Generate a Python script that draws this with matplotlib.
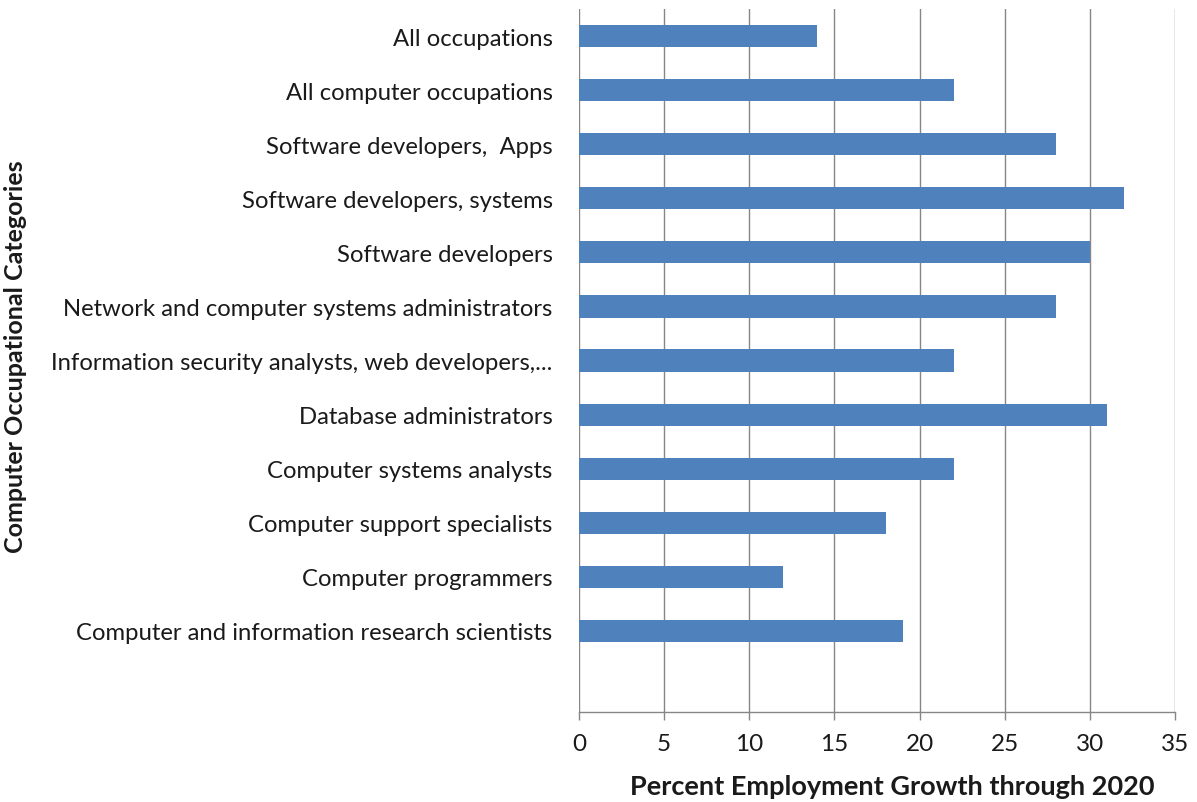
import matplotlib
matplotlib.use('Agg')
import numpy as np
from matplotlib import pyplot as plt

plt.rcParams['font.family'] = ['Lato', 'DejaVu Sans']

# categories, top to bottom
categories = [
    'All occupations',
    'All computer occupations',
    'Software developers,  Apps',
    'Software developers, systems',
    'Software developers',
    'Network and computer systems administrators',
    'Information security analysts, web developers,...',
    'Database administrators',
    'Computer systems analysts',
    'Computer support specialists',
    'Computer programmers',
    'Computer and information research scientists',
]
growth = [14, 22, 28, 32, 30, 28, 22, 31, 22, 18, 12, 19]
xticks = [0, 5, 10, 15, 20, 25, 30, 35]

fig = plt.figure(figsize=(11.97, 8.03), dpi=100)
ax = fig.add_axes([0.4837, 0.112, 0.4980, 0.8755])

ys = np.arange(len(categories))
ax.barh(ys, growth, height=0.41, color='#4F81BD', zorder=3)

ax.set_xlim(0, 35)
ax.set_ylim(len(categories) + 0.5, -0.5)
ax.set_xticks(xticks)
ax.set_yticks(ys)
ax.set_yticklabels(categories, fontsize=17.2, color='#1a1a1a')
ax.tick_params(axis='y', length=0, pad=19)
ax.tick_params(axis='x', length=6, width=1, color='#868686', pad=9,
               labelsize=17.5, labelcolor='#1a1a1a')

ax.grid(axis='x', color='#868686', linewidth=1, zorder=0)
for side in ['top', 'right', 'left']:
    ax.spines[side].set_visible(False)
ax.spines['bottom'].set_color('#868686')
ax.spines['bottom'].set_linewidth(1)

fig.text(892 / 1197, 1 - 787 / 803, 'Percent Employment Growth through 2020',
         fontsize=19.5, fontweight='bold', color='#1a1a1a',
         ha='center', va='center')
fig.text(0.003, 1 - 357 / 803, 'Computer Occupational Categories', rotation=90,
         fontsize=18, fontweight='bold', color='#1a1a1a',
         ha='left', va='center')

fig.savefig('out.png', dpi=100, facecolor='white')
